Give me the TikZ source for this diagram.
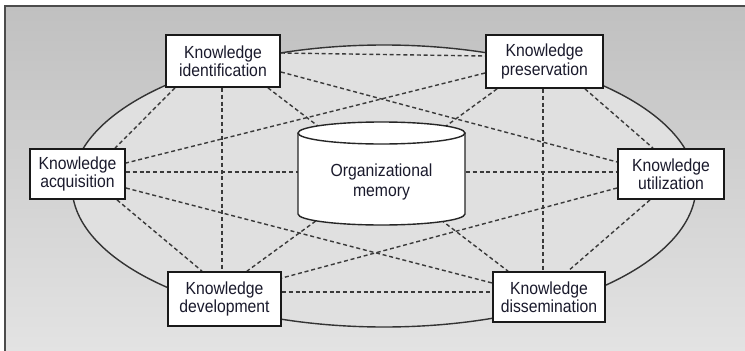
\documentclass[tikz,border=0pt]{standalone}
\usepackage{fontspec}
\setmainfont{Liberation Sans}[FakeStretch=0.9]
\definecolor{bgtop}{HTML}{C0C0C0}
\definecolor{bgbot}{HTML}{E3E3E3}
\definecolor{ellfill}{HTML}{E0E0E0}
\definecolor{linecol}{HTML}{333333}
\definecolor{dashcol}{HTML}{3A3A3A}
\definecolor{txtcol}{HTML}{1A1A2C}
\pgfdeclarelayer{backdrop}
\pgfsetlayers{backdrop,main}
\begin{document}
\begin{tikzpicture}[x=1pt,y=-1pt,
  kbox/.style={draw=black!90, line width=1.8pt, fill=white, inner sep=0pt,
    align=center, text=txtcol, font=\fontsize{17.5}{18.5}\selectfont},
  link/.style={draw=dashcol, line width=1.4pt, dash pattern=on 4pt off 2.8pt},
  ringline/.style={draw=linecol, line width=1.4pt},
  cylline/.style={draw=black!85, line width=1.4pt}]
\useasboundingbox (0,0) rectangle (745,351);
\begin{pgfonlayer}{backdrop}
% background frame
\shade[top color=bgtop, bottom color=bgbot] (5,6) rectangle (745,351);
\draw[draw=black!70, line width=1.5pt] (5,351) -- (5,6) -- (745,6);
% big ring
\draw[ringline, fill=ellfill] (384,186) ellipse [x radius=312, y radius=141];
\end{pgfonlayer}
% boxes
\node[kbox, minimum width=114pt, minimum height=52pt] (I) at (223,61) {Knowledge\\identification};
\node[kbox, minimum width=117pt, minimum height=53pt] (P) at (544.5,61.5) {Knowledge\\preservation};
\node[kbox, minimum width=95pt, minimum height=50pt] (A) at (77.5,174) {Knowledge\\acquisition};
\node[kbox, minimum width=106pt, minimum height=50pt] (U) at (671,174) {Knowledge\\utilization};
\node[kbox, minimum width=113pt, minimum height=54pt] (D) at (224.5,299) {Knowledge\\development};
\node[kbox, minimum width=112pt, minimum height=50pt] (S) at (549,297) {Knowledge\\dissemination};
\begin{pgfonlayer}{backdrop}
% links
\path[link] ([yshift=8pt]I.east) -- ([yshift=5.5pt]P.west);
\path[link] ([yshift=-11pt]I.east) -- ([yshift=12pt]U.west);
\path[link] ([xshift=-48pt]I.south) -- ([xshift=37.5pt]A.north);
\path[link] ([xshift=-1pt]I.south) -- ([xshift=-2.5pt]D.north);
\path[link] ([xshift=45pt]I.south) -- ([xshift=-41pt]S.north);
\path[link] ([yshift=-11.5pt]P.west) -- ([yshift=11pt]A.east);
\path[link] ([xshift=-47.5pt]P.south) -- ([xshift=22.5pt]D.north);
\path[link] ([xshift=-1.5pt]P.south) -- ([xshift=-6pt]S.north);
\path[link] ([xshift=40.5pt]P.south) -- ([xshift=-18pt]U.north);
\path[link] ([yshift=2pt]A.east) -- ([yshift=2pt]U.west);
\path[link] ([yshift=-14pt]A.east) -- ([yshift=14pt]S.west);
\path[link] ([xshift=39.5pt]A.south) -- ([xshift=-22.5pt]D.north);
\path[link] ([yshift=-14pt]U.west) -- ([yshift=21pt]D.east);
\path[link] ([xshift=-21pt]U.south) -- ([xshift=19pt]S.north);
\path[link] ([yshift=7pt]D.east) -- ([yshift=5pt]S.west);
% cylinder
\fill[white] (298,133) -- (298,214) arc[start angle=180, end angle=0, x radius=83.5, y radius=11] -- (465,133) -- cycle;
\draw[cylline] (298,133) -- (298,214) arc[start angle=180, end angle=0, x radius=83.5, y radius=11] -- (465,133);
\draw[cylline, fill=white] (381.5,133) ellipse [x radius=83.5, y radius=11];
\end{pgfonlayer}
\node[align=center, text=txtcol, font=\fontsize{17.5}{19.5}\selectfont] (M) at (381.5,182) {Organizational\\memory};
\end{tikzpicture}
\end{document}
